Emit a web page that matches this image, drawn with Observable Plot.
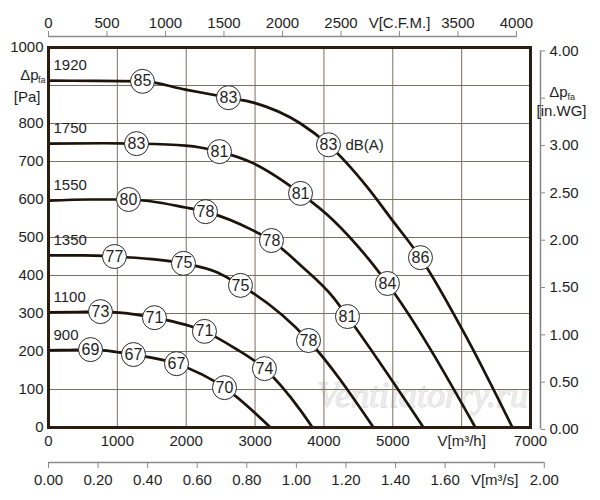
<!DOCTYPE html>
<html><head><meta charset="utf-8">
<script src="https://cdn.jsdelivr.net/npm/d3@7"></script>
<script src="https://cdn.jsdelivr.net/npm/@observablehq/plot@0.6"></script>
<style>body{margin:0;background:#fff}#chart{width:600px;height:500px}</style>
</head><body><div id="chart"></div>
<script>
// fan speeds (rpm)
const rpm = [1920, 1750, 1550, 1350, 1100, 900];

// fan curves: flow V [m³/h] and pressure Δp_fa [Pa]
const flow1920 = [0, 700, 1365, 1989, 2614, 2977, 3660, 4066, 4632, 4995, 5402, 6098, 6738];
const dp1920   = [913, 912, 911, 889, 868, 855, 800, 744, 632, 545, 447, 228, 0];
const flow1750 = [0, 800, 1278, 1989, 2483, 2977, 3660, 4138, 4632, 4922, 6200];
const dp1750   = [747, 748, 747, 742, 726, 695, 616, 545, 447, 379, 0];
const flow1550 = [0, 600, 1162, 1989, 2280, 2977, 3238, 3660, 4138, 4342, 5446];
const dp1550   = [597, 600, 600, 579, 568, 518, 492, 427, 342, 292, 0];
const flow1350 = [0, 500, 958, 1500, 1960, 2454, 2788, 2977, 3776, 4720];
const dp1350   = [453, 453, 450, 443, 432, 408, 374, 353, 229, 0];
const flow1100 = [0, 400, 755, 1539, 2265, 2686, 3136, 3660, 3834];
const dp1100   = [303, 304, 305, 289, 253, 211, 155, 45, 0];
const flow900  = [0, 300, 610, 1234, 1859, 2556, 3224];
const dp900    = [203, 204, 205, 192, 168, 105, 0];

// sound levels dB(A) along each curve
const db1920 = [85, 83, 83, 86]; const dbFlow1920 = [1365, 2614, 4066, 5402]; const dbDp1920 = [911, 868, 744, 447];
const db1750 = [83, 81, 81, 84]; const dbFlow1750 = [1278, 2483, 3660, 4922]; const dbDp1750 = [747, 726, 616, 379];
const db1550 = [80, 78, 78, 81]; const dbFlow1550 = [1162, 2280, 3238, 4342]; const dbDp1550 = [600, 568, 492, 292];
const db1350 = [77, 75, 75, 78]; const dbFlow1350 = [958, 1960, 2788, 3776]; const dbDp1350 = [450, 432, 374, 229];
const db1100 = [73, 71, 71, 74]; const dbFlow1100 = [755, 1539, 2265, 3136]; const dbDp1100 = [305, 289, 253, 155];
const db900  = [69, 67, 67, 70]; const dbFlow900  = [610, 1234, 1859, 2556]; const dbDp900  = [205, 192, 168, 105];

// axes ticks
const paTicks   = [0, 100, 200, 300, 400, 500, 600, 700, 800, 1000];
const gridPa    = [100, 200, 300, 400, 500, 600, 700, 800, 900];
const m3hTicks  = [0, 1000, 2000, 3000, 4000, 5000, 6000, 7000];
const m3hLabels = ["0", "1000", "2000", "3000", "4000", "5000", "V[m³/h]", "7000"];
const gridM3h   = [1000, 2000, 3000, 4000, 5000, 6000];
const m3sTicks  = [0, 0.2, 0.4, 0.6, 0.8, 1.0, 1.2, 1.4, 1.6, 1.8, 2.0];
const m3sLabels = ["0.00", "0.20", "0.40", "0.60", "0.80", "1.00", "1.20", "1.40", "1.60", "V[m³/s]", "2.00"];
const cfmTicks  = [0, 500, 1000, 1500, 2000, 2500, 3000, 3500, 4000];
const cfmLabels = ["0", "500", "1000", "1500", "2000", "2500", "V[C.F.M.]", "3500", "4000"];
const inwgTicks  = [0, 0.5, 1.0, 1.5, 2.0, 2.5, 3.0, 3.5, 4.0];
const inwgLabels = ["0.00", "0.50", "1.00", "1.50", "2.00", "2.50", "3.00", "", "4.00"];

const CFM = 1.699011;   // m³/h per CFM
const M3S = 3600;       // m³/h per m³/s
const INWG = 249.089;   // Pa per in.WG

const curves = [
  {rpm: 1920, q: flow1920, p: dp1920, db: db1920, dq: dbFlow1920, dp: dbDp1920},
  {rpm: 1750, q: flow1750, p: dp1750, db: db1750, dq: dbFlow1750, dp: dbDp1750},
  {rpm: 1550, q: flow1550, p: dp1550, db: db1550, dq: dbFlow1550, dp: dbDp1550},
  {rpm: 1350, q: flow1350, p: dp1350, db: db1350, dq: dbFlow1350, dp: dbDp1350},
  {rpm: 1100, q: flow1100, p: dp1100, db: db1100, dq: dbFlow1100, dp: dbDp1100},
  {rpm: 900,  q: flow900,  p: dp900,  db: db900,  dq: dbFlow900,  dp: dbDp900}
];
const linePts = curves.flatMap(c => c.q.map((q, i) => ({rpm: c.rpm, q, p: c.p[i]})));
const dbPts = curves.flatMap(c => c.db.map((v, i) => ({rpm: c.rpm, q: c.dq[i], p: c.dp[i], db: v})));
const rpmPts = curves.map(c => ({rpm: c.rpm, q: c.q[0], p: c.p[0]}));

const lab = (ticks, labels) => { const m = new Map(ticks.map((t, i) => [t, labels[i]])); return d => m.get(d); };
const cfmVals = cfmTicks.map(v => v * CFM);
const m3sVals = m3sTicks.map(v => v * M3S);
const inwgVals = inwgTicks.map(v => v * INWG);

const FONT = "'Liberation Sans', Arial, Helvetica, sans-serif";
const TXT = "#1e1e1e";
const GRID = "#7a7066";
const AX = "#8a8a8a";
const INK = "#1c130b";

const chart = Plot.plot({
  width: 600, height: 500,
  marginLeft: 48, marginRight: 70, marginTop: 47, marginBottom: 73,
  x: {domain: [0, 7000], label: null},
  y: {domain: [0, 1000], label: null},
  style: {fontFamily: FONT, fontSize: "15px", background: "#fff", color: TXT},
  marks: [
    Plot.text(["Ventilatorry.ru"], {frameAnchor: "bottom-right", dx: -108, dy: -32, textAnchor: "middle", lineAnchor: "middle", fontSize: 36,
      fontFamily: "'Liberation Serif', 'DejaVu Serif', serif", fontStyle: "italic",
      fill: "#ececec", stroke: "#cdcdcd", strokeWidth: 0.8}),
    Plot.ruleX(gridM3h, {stroke: GRID, strokeWidth: 1}),
    Plot.ruleY(gridPa, {stroke: GRID, strokeWidth: 1}),
    Plot.line(linePts, {x: "q", y: "p", z: "rpm", curve: "monotone-x", stroke: INK, strokeWidth: 2.7}),
    Plot.dot(dbPts, {x: "q", y: "p", r: 12, fill: "#fff", stroke: "#2a2a2a", strokeWidth: 1}),
    Plot.text(dbPts, {x: "q", y: "p", text: d => String(d.db), fontSize: 16, fill: TXT}),
    Plot.text(rpmPts, {x: "q", y: "p", text: d => String(d.rpm), dx: 5, dy: -15, textAnchor: "start", fontSize: 15, fill: TXT}),
    Plot.text(["dB(A)"], {x: dbFlow1920[2], y: dbDp1920[2], dx: 17, textAnchor: "start", fontSize: 15, fill: TXT}),
    Plot.frame({stroke: "#2b1d10", strokeWidth: 3}),
    // left axis (Pa)
    Plot.axisY(paTicks, {anchor: "left", label: null, tickSize: 0, tickPadding: 5, fontSize: 15, fill: TXT, tickFormat: d => String(d)}),
    Plot.text(["Δp"], {frameAnchor: "top-left", dx: -10, dy: 28, textAnchor: "end", lineAnchor: "middle", fontSize: 15, fill: TXT}),
    Plot.text(["fa"], {frameAnchor: "top-left", dx: -3, dy: 33, textAnchor: "end", lineAnchor: "middle", fontSize: 9, fill: TXT}),
    Plot.text(["[Pa]"], {frameAnchor: "top-left", dx: -8, dy: 50, textAnchor: "end", lineAnchor: "middle", fontSize: 15, fill: TXT}),
    // bottom axis (m³/h)
    Plot.axisX(m3hTicks, {anchor: "bottom", label: null, tickSize: 0, tickPadding: 8, fontSize: 15, fill: TXT, tickFormat: lab(m3hTicks, m3hLabels)}),
    // second bottom axis (m³/s)
    Plot.ruleY([0], {x1: 0, x2: 2 * M3S, dy: 35, stroke: AX, strokeWidth: 1.5}),
    Plot.axisX(m3sVals, {anchor: "bottom", label: null, dy: 35, tickSize: 6, tickPadding: 6, fontSize: 15, stroke: AX, fill: TXT, tickFormat: lab(m3sVals, m3sLabels)}),
    // top axis (CFM)
    Plot.ruleY([1000], {x1: 0, x2: 4000 * CFM, dy: -11, stroke: AX, strokeWidth: 1.5}),
    Plot.axisX(cfmVals, {anchor: "top", label: null, dy: -11, tickSize: 6, tickPadding: 3, fontSize: 15, stroke: AX, fill: TXT, tickFormat: lab(cfmVals, cfmLabels)}),
    // right axis (in.WG)
    Plot.ruleX([7000], {y1: 0, y2: 4 * INWG, dx: 10, dy: 2, stroke: AX, strokeWidth: 1.5}),
    Plot.axisY(inwgVals, {anchor: "right", label: null, dx: 10, dy: 2, tickSize: 4, tickPadding: 5, fontSize: 15, stroke: AX, fill: TXT, tickFormat: lab(inwgVals, inwgLabels)}),
    Plot.text(["Δp"], {frameAnchor: "top-right", dx: 37, dy: 45, textAnchor: "end", lineAnchor: "middle", fontSize: 15, fill: TXT}),
    Plot.text(["fa"], {frameAnchor: "top-right", dx: 37, dy: 50, textAnchor: "start", lineAnchor: "middle", fontSize: 9, fill: TXT}),
    Plot.text(["[in.WG]"], {frameAnchor: "top-right", dx: 31, dy: 64, textAnchor: "middle", lineAnchor: "middle", fontSize: 15, fill: TXT})
  ]
});
document.getElementById("chart").appendChild(chart);
</script>
</body></html>
